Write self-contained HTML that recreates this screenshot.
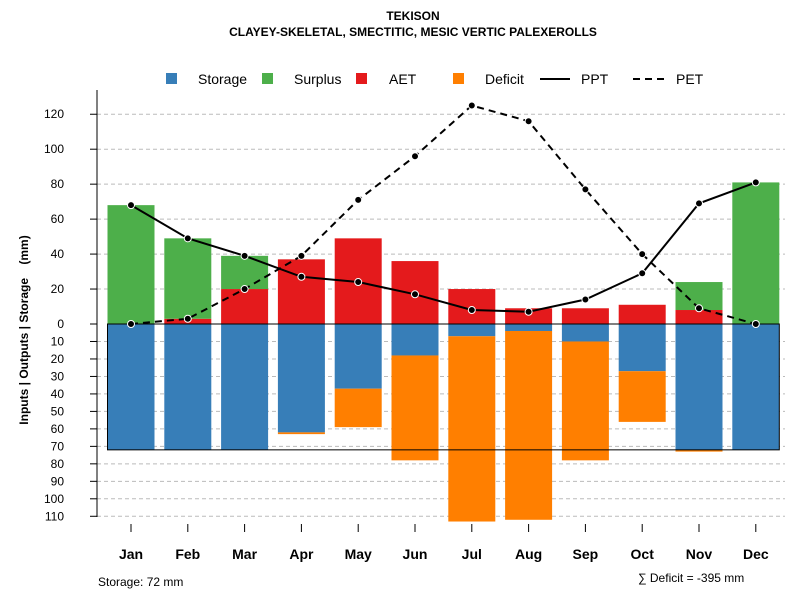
<!DOCTYPE html>
<html><head><meta charset="utf-8"><style>
body{margin:0;background:#fff;font-family:"Liberation Sans",sans-serif}
svg text{font-family:"Liberation Sans",sans-serif}
</style></head><body>
<svg id="chart" width="800" height="600">
<text x="413" y="20" text-anchor="middle" font-size="12" font-weight="bold">TEKISON</text>
<text x="413" y="36" text-anchor="middle" font-size="12" font-weight="bold">CLAYEY-SKELETAL, SMECTITIC, MESIC VERTIC PALEXEROLLS</text>
<g id="grid"></g><g id="bars"></g><g id="lines"></g><g id="axes"></g>
<g font-size="14">
<rect x="166" y="73" width="11" height="11" fill="#377eb8"/><text x="198" y="84">Storage</text>
<rect x="262" y="73" width="11" height="11" fill="#4daf4a"/><text x="294" y="84">Surplus</text>
<rect x="356" y="73" width="11" height="11" fill="#e41a1c"/><text x="389" y="84">AET</text>
<rect x="453" y="73" width="11" height="11" fill="#ff7f00"/><text x="485" y="84">Deficit</text>
<line x1="540" y1="79" x2="570" y2="79" stroke="#000" stroke-width="2"/><text x="581" y="84">PPT</text>
<line x1="633" y1="79" x2="665" y2="79" stroke="#000" stroke-width="2" stroke-dasharray="7,5"/><text x="676" y="84">PET</text>
</g>
<text transform="translate(28,330) rotate(-90)" text-anchor="middle" font-size="12" font-weight="bold" xml:space="preserve" style="white-space:pre">Inputs | Outputs | Storage    (mm)</text>
<text x="98" y="586" font-size="12">Storage: 72 mm</text>
<text x="638" y="582" font-size="12">∑ Deficit = -395 mm</text>
</svg>
<script>
const months=["Jan","Feb","Mar","Apr","May","Jun","Jul","Aug","Sep","Oct","Nov","Dec"];
const ppt=[68,49,39,27,24,17,8,7,14,29,69,81];
const pet=[0,3,20,39,71,96,125,116,77,40,9,0];
const aet=[0,3,20,37,49,36,20,9,9,11,8,0];
const surplus=[68,46,19,0,0,0,0,0,0,0,16,81];
const storage=[72,72,72,62,37,18,7,4,10,27,72,72];
const deficit=[0,0,0,1,22,60,106,108,68,29,1,0];
const upTicks=[0,20,40,60,80,100,120];
const downTicks=[10,20,30,40,50,60,70,80,90,100,110];
const NS="http://www.w3.org/2000/svg";
const y0=324,k=1.748;
const yUp=v=>y0-v*k, yDn=v=>y0+v*k;
const xc=i=>131+i*56.8, bw=47;
function mk(p,t,a){const e=document.createElementNS(NS,t);for(const q in a)e.setAttribute(q,a[q]);document.getElementById(p).appendChild(e);return e;}
upTicks.forEach(t=>{
 if(t>0){const g=mk("grid","line",{x1:97,x2:785,y1:yUp(t),y2:yUp(t),stroke:"#bbb","stroke-dasharray":"4,3"});
 
 }
 mk("axes","line",{x1:90,x2:97,y1:yUp(t),y2:yUp(t),stroke:"#000"});
 const tx=mk("axes","text",{x:64,y:yUp(t)+4,"font-size":12,"text-anchor":"end"});tx.textContent=t;
 
 
});
downTicks.forEach(t=>{
 const g=mk("grid","line",{x1:97,x2:785,y1:yDn(t),y2:yDn(t),stroke:"#bbb","stroke-dasharray":"4,3"});
 
 
 mk("axes","line",{x1:90,x2:97,y1:yDn(t),y2:yDn(t),stroke:"#000"});
 const tx=mk("axes","text",{x:64,y:yDn(t)+4,"font-size":12,"text-anchor":"end"});tx.textContent=t;
 
 
});
mk("axes","line",{x1:97,x2:97,y1:90,y2:517,stroke:"#000"});
months.forEach((m,i)=>{
 const x=xc(i)-bw/2;
 const a=mk("bars","rect",{x,y:yUp(aet[i]),width:bw,height:aet[i]*k,fill:"#e41a1c"});
 
 
 const s=mk("bars","rect",{x,y:yUp(aet[i]+surplus[i]),width:bw,height:surplus[i]*k,fill:"#4daf4a"});
 
 
 const st=mk("bars","rect",{x,y:y0,width:bw,height:storage[i]*k,fill:"#377eb8"});
 
 
 const d=mk("bars","rect",{x,y:yDn(storage[i]),width:bw,height:deficit[i]*k,fill:"#ff7f00"});
 
 
 mk("axes","line",{x1:xc(i),x2:xc(i),y1:524,y2:532,stroke:"#000"});
 const t=mk("axes","text",{x:xc(i),y:559,"font-size":14,"font-weight":"bold","text-anchor":"middle"});t.textContent=m;
 
 
});
const box=mk("bars","rect",{x:xc(0)-bw/2,y:y0,width:xc(11)+bw/2-(xc(0)-bw/2),height:72*k,fill:"none",stroke:"#000"});


const pl=mk("lines","polyline",{points:ppt.map((v,i)=>xc(i)+","+yUp(v)).join(" "),fill:"none",stroke:"#000","stroke-width":2});


const el=mk("lines","polyline",{points:pet.map((v,i)=>xc(i)+","+yUp(v)).join(" "),fill:"none",stroke:"#000","stroke-width":2,"stroke-dasharray":"7,5"});


[ppt,pet].forEach((arr,j)=>arr.forEach((v,i)=>{
 const c=mk("lines","circle",{cx:xc(i),cy:yUp(v),r:3.5,fill:"#000",stroke:"#fff","stroke-width":1});
 
 
}));
</script>
</body></html>
